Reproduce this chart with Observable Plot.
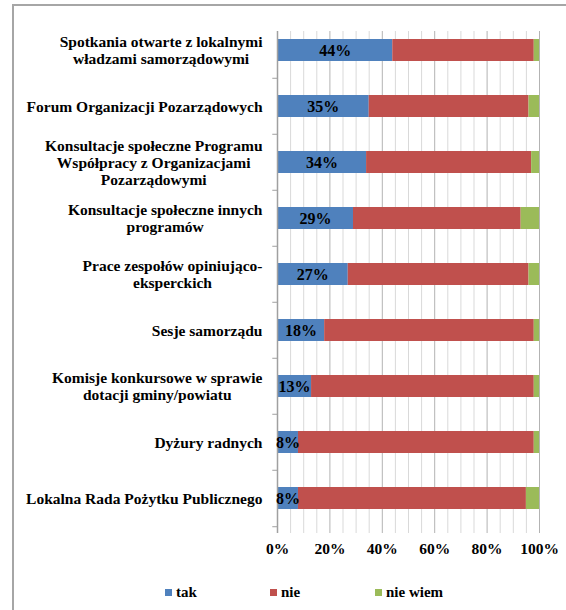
<!DOCTYPE html>
<html><head><meta charset="utf-8">
<script src="https://cdn.jsdelivr.net/npm/d3@7"></script>
<script src="https://cdn.jsdelivr.net/npm/@observablehq/plot@0.6"></script>
<style>
body{margin:0;background:#fff;font-family:"Liberation Serif","Times New Roman",Tinos,Times,"DejaVu Serif",serif;color:#000;}
#wrap{position:relative;width:566px;height:610px;overflow:hidden;}
#frame{position:absolute;left:12px;top:4px;width:700px;height:700px;border-left:2px solid #a6a6a6;border-top:2px solid #a6a6a6;}
#chart{position:absolute;left:0;top:0;}
#chart svg text{font-family:"Liberation Serif","Times New Roman",Tinos,Times,"DejaVu Serif",serif;}
#legend{position:absolute;left:165px;top:584px;display:flex;font-weight:bold;font-size:15px;line-height:16px;}
.item{width:105px;display:flex;align-items:center;}
.sw{width:7px;height:7px;margin-right:4px;}
</style></head><body>
<div id="wrap"><div id="frame"></div><div id="chart"></div><div id="legend"></div></div>
<script>
const categories = [
  "Spotkania otwarte z lokalnymi\nwładzami samorządowymi",
  "Forum Organizacji Pozarządowych",
  "Konsultacje społeczne Programu\nWspółpracy z Organizacjami\nPozarządowymi",
  "Konsultacje społeczne innych\nprogramów",
  "Prace zespołów opiniująco-\neksperckich",
  "Sesje samorządu",
  "Komisje konkursowe w sprawie\ndotacji gminy/powiatu",
  "Dyżury radnych",
  "Lokalna Rada Pożytku Publicznego"
];
const series = ["tak", "nie", "nie wiem"];
const colors = ["#4F81BD", "#C0504D", "#9BBB59"];
const tak     = [44, 35, 34, 29, 27, 18, 13, 8, 8];
const nie     = [54, 61, 63, 64, 69, 80, 85, 90, 87];
const nieWiem = [2, 4, 3, 7, 4, 2, 2, 2, 5];
const xTicks = [0, 20, 40, 60, 80, 100];
const gridTicks = d3.range(0, 101, 5);

const data = categories.flatMap((c, i) => [
  {cat: c, s: "tak", v: tak[i]},
  {cat: c, s: "nie", v: nie[i]},
  {cat: c, s: "nie wiem", v: nieWiem[i]}
]);

const W = 566, H = 575, mT = 20, mB = 47, mL = 277, mR = 27;
const step = (H - mT - mB) / categories.length;
const font = '"Liberation Serif", "Times New Roman", Tinos, Times, "DejaVu Serif", serif';

const plot = Plot.plot({
  width: W, height: H, marginTop: mT, marginBottom: mB, marginLeft: mL, marginRight: mR,
  style: {fontFamily: font, background: "transparent", overflow: "visible", color: "#000"},
  x: {domain: [0, 100]},
  y: {domain: categories, paddingInner: 0.6, paddingOuter: 0.3},
  color: {domain: series, range: colors},
  marks: [
    Plot.ruleX(gridTicks.filter(t => t % 20 !== 0), {stroke: "#d9d9d9", insetTop: 11, insetBottom: -5}),
    Plot.ruleX(xTicks.filter(t => t > 0), {stroke: "#b3b3b3", insetTop: 11, insetBottom: -5}),
    Plot.barX(data, Plot.stackX({x: "v", y: "cat", fill: "s"})),
    Plot.ruleX([0], {stroke: "#a0a0a0", strokeWidth: 1.5, insetTop: 11, insetBottom: -5}),
    Plot.ruleY(categories.slice(1), {y: d => d, x1: -1.8, x2: 0, dy: -step / 2, stroke: "#a0a0a0"}),
    Plot.ruleY(categories.slice(-1), {y: d => d, x1: -1.8, x2: 0, dy: step / 2, stroke: "#a0a0a0"}),
    Plot.text(data, Plot.stackX({x: "v", y: "cat", z: "s",
      text: d => d.s === "tak" ? d.v + "%" : null,
      fontWeight: "bold", fontSize: 16, fill: "#000"})),
    Plot.axisX({ticks: xTicks, tickSize: 0, tickPadding: 14, tickFormat: d => d + "%",
      fontSize: 15.5, fontWeight: "bold", label: null}),
    Plot.axisY({tickSize: 0, tickPadding: 15, fontSize: 15.5, fontWeight: "bold",
      lineHeight: 1.1, label: null})
  ]
});
document.getElementById("chart").appendChild(plot);

// center multi-line labels within their block (block right-aligned)
plot.querySelectorAll('g[aria-label="y-axis tick label"] text').forEach(t => {
  const spans = t.querySelectorAll("tspan");
  if (spans.length < 2) return;
  let w = 0;
  spans.forEach(s => { w = Math.max(w, s.getComputedTextLength()); });
  t.setAttribute("text-anchor", "middle");
  spans.forEach(s => s.setAttribute("x", -w / 2));
});

const legend = document.getElementById("legend");
series.forEach((s, i) => {
  const it = document.createElement("div");
  it.className = "item";
  const sw = document.createElement("span");
  sw.className = "sw";
  sw.style.background = colors[i];
  const tx = document.createElement("span");
  tx.textContent = s;
  it.appendChild(sw); it.appendChild(tx);
  legend.appendChild(it);
});
</script>
</body></html>
